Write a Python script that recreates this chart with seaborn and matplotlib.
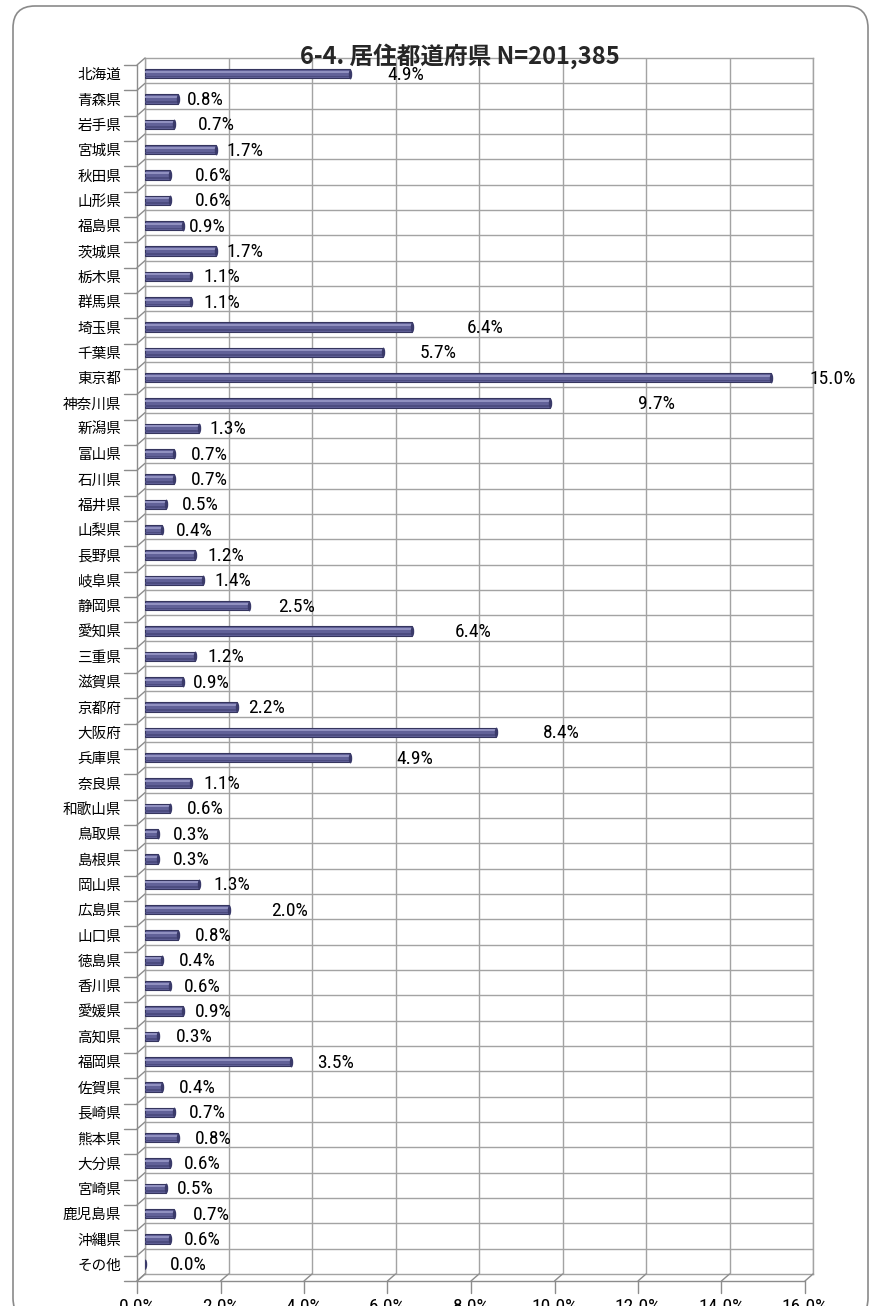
import numpy as np
import pandas as pd
import matplotlib
matplotlib.use('Agg')
import matplotlib.pyplot as plt
import seaborn as sns
from matplotlib import font_manager
from matplotlib.transforms import ScaledTranslation
from matplotlib.patches import FancyBboxPatch
from matplotlib.lines import Line2D
from matplotlib.path import Path

# residence prefecture shares (%)
prefectures = ['北海道', '青森県', '岩手県', '宮城県', '秋田県', '山形県', '福島県', '茨城県',
               '栃木県', '群馬県', '埼玉県', '千葉県', '東京都', '神奈川県', '新潟県', '富山県',
               '石川県', '福井県', '山梨県', '長野県', '岐阜県', '静岡県', '愛知県', '三重県',
               '滋賀県', '京都府', '大阪府', '兵庫県', '奈良県', '和歌山県', '鳥取県', '島根県',
               '岡山県', '広島県', '山口県', '徳島県', '香川県', '愛媛県', '高知県', '福岡県',
               '佐賀県', '長崎県', '熊本県', '大分県', '宮崎県', '鹿児島県', '沖縄県', 'その他']
shares = [4.9, 0.8, 0.7, 1.7, 0.6, 0.6, 0.9, 1.7,
          1.1, 1.1, 6.4, 5.7, 15.0, 9.7, 1.3, 0.7,
          0.7, 0.5, 0.4, 1.2, 1.4, 2.5, 6.4, 1.2,
          0.9, 2.2, 8.4, 4.9, 1.1, 0.6, 0.3, 0.3,
          1.3, 2.0, 0.8, 0.4, 0.6, 0.9, 0.3, 3.5,
          0.4, 0.7, 0.8, 0.6, 0.5, 0.7, 0.6, 0.0]
x_ticks = [0, 2, 4, 6, 8, 10, 12, 14, 16]
x_tick_labels = ['0.0%', '2.0%', '4.0%', '6.0%', '8.0%', '10.0%', '12.0%', '14.0%', '16.0%']

# where Excel dropped each data label (centre, in % units)
label_at = [6.25, 1.44, 1.70, 2.40, 1.63, 1.63, 1.49, 2.40,
            1.84, 1.84, 8.14, 7.02, 16.46, 12.26, 1.99, 1.53,
            1.53, 1.32, 1.17, 1.94, 2.11, 3.62, 7.86, 1.94,
            1.60, 2.90, 9.96, 6.47, 1.84, 1.44, 1.10, 1.10,
            2.08, 3.47, 1.63, 1.25, 1.37, 1.63, 1.17, 4.57,
            1.25, 1.49, 1.63, 1.37, 1.20, 1.60, 1.37, 1.03]


def has_font(name):
    try:
        font_manager.findfont(name, fallback_to_default=False)
        return True
    except ValueError:
        return False


sns.set_theme(style='white')
plt.rcParams['font.family'] = ['Noto Sans CJK JP', 'DejaVu Sans']

# the original uses a narrow Arial-ish face for numbers
narrow, num_size = ['Liberation Sans', 'DejaVu Sans'], 11.5
for cand in ['Liberation Sans Narrow', 'Roboto Condensed', 'Arial Narrow']:
    if has_font(cand):
        narrow, num_size = [cand, 'Liberation Sans', 'DejaVu Sans'], 14
        break

W, H = 876, 1306
fig = plt.figure(figsize=(W / 100, H / 100), dpi=100)
ax = fig.add_axes([145 / W, 32 / H, 668 / W, 1216 / H])

df = pd.DataFrame({'pref': prefectures, 'share': shares})
n = len(df)
sns.barplot(data=df, y='pref', x='share', orient='h', color='#616198', saturation=1,
            edgecolor='#35355e', linewidth=0.8, width=0.37, ax=ax, zorder=3)
for p in ax.patches:
    p.set_y(p.get_y() + 0.12)

# cylinder highlight + end cap
ypos = np.arange(n) + 0.12
ax.barh(ypos - 0.08, df['share'], height=0.07, color='#9090c0', linewidth=0, zorder=4)
ax.barh(ypos + 0.11, df['share'], height=0.06, color='#4c4c80', linewidth=0, zorder=4)
cap = Path(Path.unit_circle().vertices * [0.35, 1.0], Path.unit_circle().codes)
ax.scatter(df['share'], ypos, marker=cap, s=50, color='#3a3a6a', linewidths=0, zorder=5)

ax.set_xlim(0, 16)
ax.set_ylim(n - 0.5, -0.5)
ax.set_xlabel('')
ax.set_ylabel('')

grid_c = '#a3a3a3'
ax.set_xticks(x_ticks)
ax.set_xticklabels(x_tick_labels, fontsize=num_size, family=narrow)
ax.xaxis.grid(True, color=grid_c, lw=1)
ax.set_yticks(np.arange(n - 1) + 0.5, minor=True)
ax.yaxis.grid(True, which='minor', color=grid_c, lw=1)
ax.yaxis.grid(False, which='major')
ax.tick_params(axis='x', length=0, pad=17, colors='black')
ax.tick_params(axis='y', which='major', length=0, pad=17, labelsize=10.5, colors='black')
ax.tick_params(axis='y', which='minor', length=0)
for s in ax.spines.values():
    s.set_color(grid_c)
    s.set_linewidth(1)
    s.set_visible(True)

for lab in ax.get_xticklabels():
    lab.set_transform(lab.get_transform() + ScaledTranslation(-0.08, 0, fig.dpi_scale_trans))
for lab in ax.get_yticklabels():
    lab.set_transform(lab.get_transform() + ScaledTranslation(0, -0.03, fig.dpi_scale_trans))

# data labels
for i, (v, lx) in enumerate(zip(shares, label_at)):
    ax.text(lx, i + 0.16, f'{v:.1f}%', ha='center', va='center', fontsize=num_size,
            family=narrow, color='black', zorder=6)

# fake 3D side wall and floor
fig.canvas.draw()
to_fig = fig.transFigure.inverted()
dx, dy = -8, -7
edge_c = '#8c8c8c'


def seg(p0, p1):
    a = to_fig.transform(p0)
    b = to_fig.transform(p1)
    fig.add_artist(Line2D([a[0], b[0]], [a[1], b[1]], color=edge_c, lw=1))


def disp(x, y):
    return ax.transData.transform((x, y))


top = disp(0, -0.5)
bot = disp(0, n - 0.5)
seg(top + [dx, dy], bot + [dx, dy])
for b in np.arange(-0.5, n, 1):
    p = disp(0, b)
    seg(p, p + [dx, dy])
    seg(p + [dx, dy], p + [dx - 13, dy])

left = disp(0, n - 0.5)
right = disp(16, n - 0.5)
seg(left + [dx, dy], right + [dx, dy])
for xt in x_ticks:
    p = disp(xt, n - 0.5)
    seg(p, p + [dx, dy])
    seg(p + [dx, dy], p + [dx, dy - 12])

# title
fig.text(460 / W, 1 - 56 / H, '6-4. 居住都道府県 N=201,385', ha='center', va='center',
         fontsize=17, fontweight='bold', family=['Noto Sans CJK JP', 'DejaVu Sans'], zorder=10)

# rounded chart-area border
fig.add_artist(FancyBboxPatch((0.13, -0.14), 8.55, 13.14, boxstyle='round,pad=0,rounding_size=0.22',
                              transform=fig.dpi_scale_trans, fill=False, ec='#8a8a8a', lw=1.2))

fig.savefig('out.png', dpi=100)
